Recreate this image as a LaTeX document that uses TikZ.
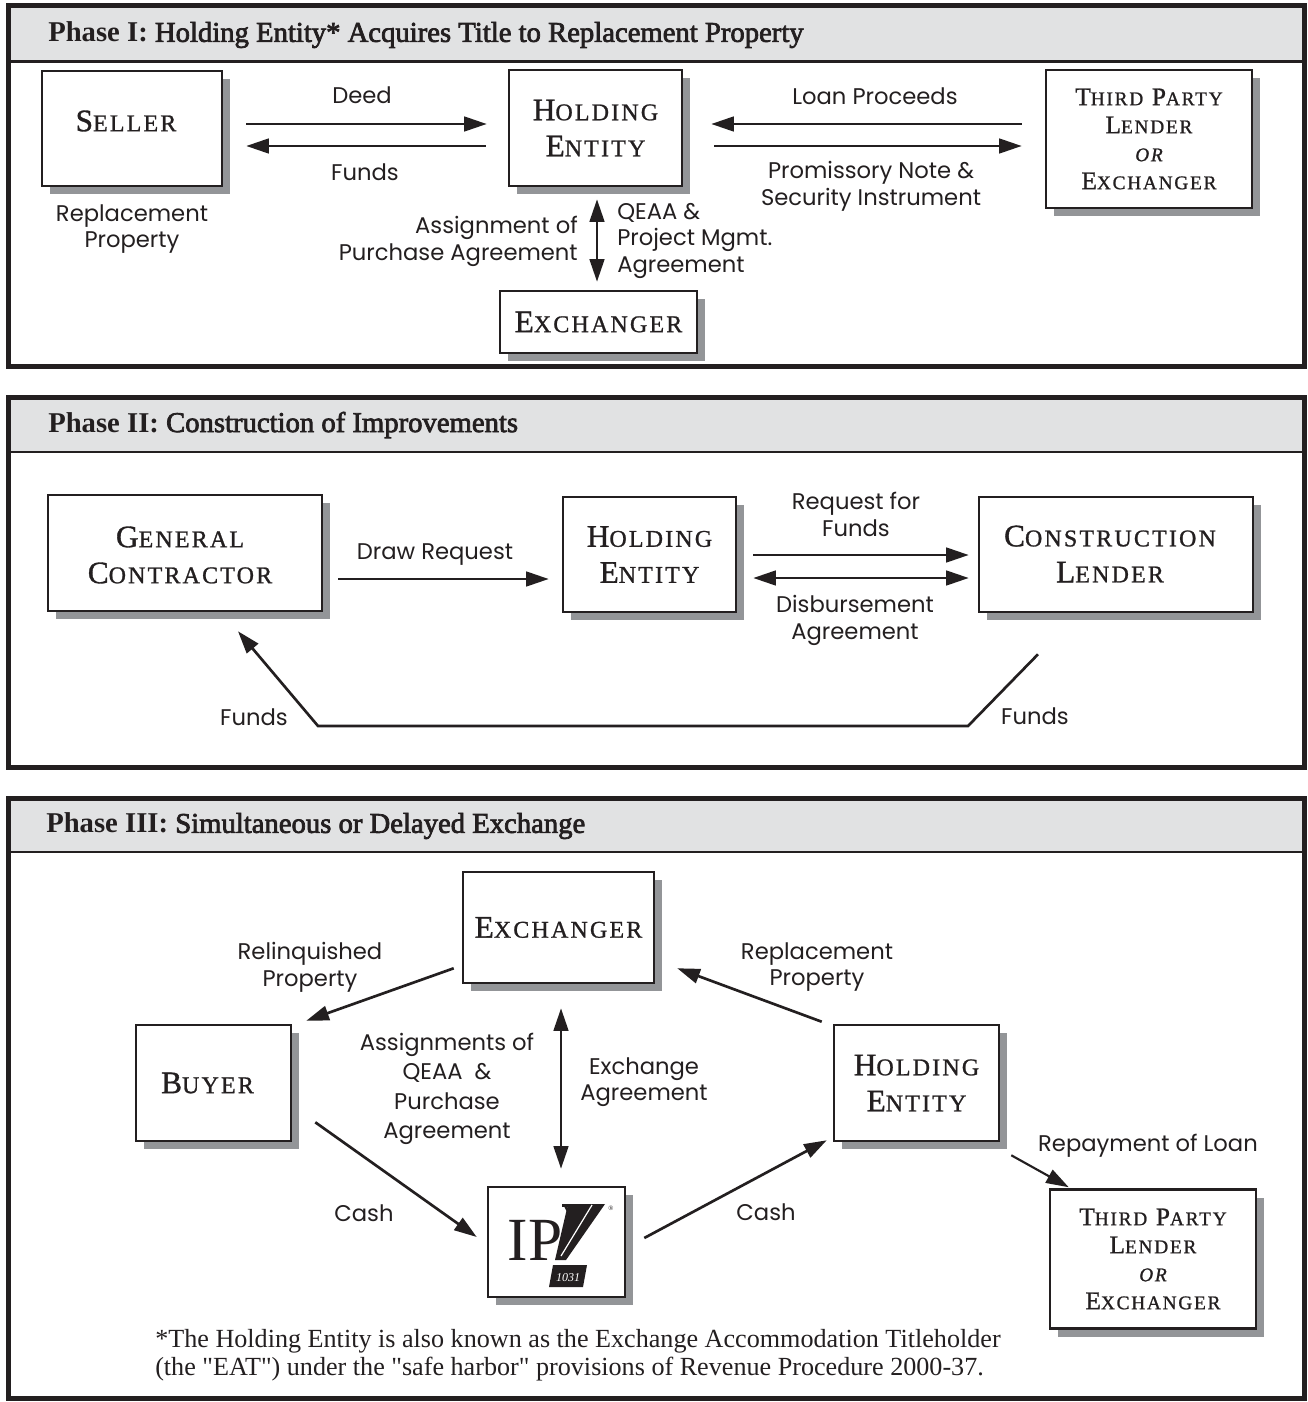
\documentclass[tikz,border=0pt]{standalone}
\usepackage{fontspec}
\setmainfont{Liberation Serif}
\newfontfamily\labfont{Poppins}
\newfontfamily\scfont{Liberation Serif}[LetterSpace=9,FakeBold=1]
\newfontface\semib{Liberation Serif}[FakeBold=2.5]
\usetikzlibrary{arrows.meta,shadows,calc}
\definecolor{ink}{HTML}{231F20}
\definecolor{hdr}{HTML}{E1E2E3}
\definecolor{shd}{HTML}{939598}
\newcommand\scA[2]{#1{\fontsize{18pt}{27pt}\selectfont #2}}
\newcommand\scB[2]{#1{\fontsize{14.5pt}{21pt}\selectfont #2}}
\newcommand\sqt{\XeTeXglyph\XeTeXcharglyph"22\relax}
\begin{document}
\begin{tikzpicture}[x=0.75pt,y=-0.75pt,
  panel/.style={draw=ink,line width=3.75pt},
  sep/.style={draw=ink,line width=1.9pt},
  box/.style={draw=ink,line width=1.9pt,fill=white,inner sep=0pt,align=center,text=ink,
    drop shadow={shadow xshift=6pt,shadow yshift=-6pt,fill=shd,opacity=1}},
  sz/.style 2 args={minimum width=#1*0.75pt,minimum height=#2*0.75pt},
  bigtext/.style={font=\scfont\fontsize{23.5pt}{27pt}\selectfont,align=center,text=ink,inner sep=0pt},
  tptext/.style={font=\scfont\fontsize{19pt}{21pt}\selectfont,align=center,text=ink,inner sep=0pt},
  lab/.style={font=\labfont\fontsize{17pt}{20pt}\selectfont,text=ink,inner sep=0pt,align=center},
  title/.style={font=\fontsize{21.5pt}{24pt}\selectfont,text=ink,anchor=west,inner sep=0pt},
  arr/.style={draw=ink,line width=2pt,-{Triangle[length=17pt,width=11pt]}},
  dbl/.style={draw=ink,line width=2pt,{Triangle[length=17pt,width=11pt]}-{Triangle[length=17pt,width=11pt]}}
]
\useasboundingbox (0,0) rectangle (1307,1402);
\fill[white] (0,0) rectangle (1307,1402);

% ---------------- Panel frames ----------------
\fill[hdr] (8,5.5) rectangle (1304,61.5);
\draw[sep] (8,61.5) -- (1304,61.5);
\draw[panel] (8,5.5) rectangle (1304,366);
\fill[hdr] (8,397) rectangle (1304,452);
\draw[sep] (8,452) -- (1304,452);
\draw[panel] (8,397) rectangle (1304,767);
\fill[hdr] (8,798) rectangle (1304,852);
\draw[sep] (8,852) -- (1304,852);
\draw[panel] (8,798) rectangle (1304,1398);

\node[title] (t1) at (48,35) {\textbf{Phase I:} \semib Holding Entity* Acquires Title to Replacement Property};
\node[title] (t2) at (48,425) {\textbf{Phase II:} \semib Construction of Improvements};
\node[title] (t3) at (46,826) {\textbf{Phase III:} \semib Simultaneous or Delayed Exchange};

% ---------------- Phase I ----------------
\node[box,sz={180}{115}] (seller) at (132,128.5) {};
\node[bigtext] (sellert) at (126,121) {\scA{S}{ELLER}};
\node[box,sz={173}{116},bigtext] (hold1) at (595.5,128) {\scA{H}{OLDING}\\\scA{E}{NTITY}};
\node[box,sz={206}{138},tptext] (third1) at (1149,139) {\scB{T}{HIRD} \scB{P}{ARTY}\\\scB{L}{ENDER}\\{\itshape\fontsize{14.5pt}{21pt}\selectfont OR}\\\scB{E}{XCHANGER}};
\node[box,sz={197}{62},bigtext] (exch1) at (598.5,322) {\scA{E}{XCHANGER}};

\draw[arr] ($(seller.east)+(23,-4.5)$) -- ($(hold1.west)+(-21,-4)$);
\draw[arr] ($(hold1.west)+(-22,18)$) -- ($(seller.east)+(23,17.5)$);
\draw[arr] ($(third1.west)+(-23,-15)$) -- ($(hold1.east)+(28,-4)$);
\draw[arr] ($(hold1.east)+(31,18)$) -- ($(third1.west)+(-23,7)$);
\draw[dbl] ($(hold1.south)+(1.5,12)$) -- ($(exch1.north)+(-1.5,-8)$);

\node[lab] (deed) at (362,95) {Deed};
\node[lab] (funds1) at (365,172) {Funds};
\node[lab] (loan) at (875,96) {Loan Proceeds};
\node[lab] (prom) at (871,186) {Promissory Note \&\\Security Instrument};
\node[lab] (repl1) at (132,229) {Replacement\\Property};
\node[lab,anchor=east,align=right] (assign1) at (578,241.5) {Assignment of\\Purchase Agreement};
\node[lab,anchor=west,align=left] (qeaa1) at (617,241) {QEAA \&\\Project Mgmt.\\Agreement};

% ---------------- Phase II ----------------
\node[box,sz={274}{116}] (gc) at (185,553) {};
\node[bigtext] (gct) at (180,555) {\scA{G}{ENERAL}\\\scA{C}{ONTRACTOR}};
\node[box,sz={173}{115},bigtext] (hold2) at (649.5,554.5) {\scA{H}{OLDING}\\\scA{E}{NTITY}};
\node[box,sz={274}{115}] (cl) at (1116,554.5) {};
\node[bigtext] (clt) at (1110,554) {\scA{C}{ONSTRUCTION}\\\scA{L}{ENDER}};

\draw[arr] ($(gc.east)+(15,26)$) -- ($(hold2.west)+(-13,24.5)$);
\draw[arr] ($(hold2.east)+(16,0.5)$) -- ($(cl.west)+(-9,0.5)$);
\draw[dbl] ($(hold2.east)+(16,23.5)$) -- ($(cl.west)+(-9,23.5)$);
\coordinate (f1) at (968,726);
\coordinate (f2) at (318,726);
\draw[arr] ($(cl.south)+(-78,41)$) -- (f1) -- (f2) -- ($(gc.south)+(53,19)$);

\node[lab] (draw) at (435,555) {Draw Request};
\node[lab] (req) at (856,514.5) {Request for\\Funds};
\node[lab] (disb) at (855,620.5) {Disbursement\\Agreement};
\node[lab] (funds2) at (254,717) {Funds};
\node[lab] (funds3) at (1035,716) {Funds};

% ---------------- Phase III ----------------
\node[box,sz={191}{111},bigtext] (exch3) at (558.5,927.5) {\scA{E}{XCHANGER}};
\node[box,sz={155}{116},bigtext] (buyer) at (213.5,1083) {\hspace*{-9pt}\scA{B}{UYER}};
\node[box,sz={165}{116},bigtext] (hold3) at (916.5,1083) {\scA{H}{OLDING}\\\scA{E}{NTITY}};
\node[box,sz={137}{110}] (ipx) at (556.5,1242) {};
\node[box,sz={206}{139},tptext] (third3) at (1153,1259) {\scB{T}{HIRD} \scB{P}{ARTY}\\\scB{L}{ENDER}\\{\itshape\fontsize{14.5pt}{21pt}\selectfont OR}\\\scB{E}{XCHANGER}};

% IPX logo
\node[font=\fontsize{46pt}{46pt}\selectfont,text=ink,inner sep=0pt,anchor=base] (ipxt) at (535,1260) {IP};
\fill[ink] (568,1204) -- (605,1204) -- (566,1260) -- (555,1260) -- cycle;
\fill[ink] (562,1204) rectangle (575,1207);
\draw[ink,line width=1.5pt] (565,1206) -- (580,1234);
\draw[white,line width=0.9pt] (592,1205) -- (561,1256);
\fill[ink] (553,1265) -- (587,1265) -- (583,1287) -- (549,1287) -- cycle;
\node[font=\itshape\fontsize{9pt}{9pt}\selectfont,text=white,inner sep=0pt] (ipxn) at (568,1278) {1031};
\node[font=\fontsize{5pt}{5pt}\selectfont,text=ink,inner sep=0pt] (ipxr) at (611,1208) {\textregistered};

\draw[arr] ($(exch3.south west)+(-8,-16)$) -- ($(buyer.north east)+(14,-3)$);
\draw[arr] ($(hold3.north west)+(-11,-2)$) -- ($(exch3.south east)+(22,-16)$);
\draw[dbl] ($(exch3.south)+(2.5,24)$) -- ($(ipx.north)+(4.5,-17)$);
\draw[arr] ($(buyer.south east)+(23,-20)$) -- ($(ipx.west)+(-10,-5)$);
\draw[arr] ($(ipx.east)+(18,-4)$) -- ($(hold3.south west)+(-6,-2)$);
\draw[arr,line width=1.6pt] ($(hold3.south east)+(11,13)$) -- ($(third3.north west)+(20,-1)$);

\node[lab] (relq) at (310,967) {Relinquished\\Property};
\node[lab] (repl3) at (817,967) {Replacement\\Property};
\node[lab,font=\labfont\fontsize{17pt}{22pt}\selectfont] (assign3) at (447,1089) {Assignments of\\QEAA\ \ \&\\Purchase\\Agreement};
\node[lab] (exag) at (644,1082) {Exchange\\Agreement};
\node[lab] (cash1) at (364,1213) {Cash};
\node[lab] (cash2) at (766,1212) {Cash};
\node[lab] (repay) at (1148,1146) {Repayment of Loan};

\node[font=\fontsize{19.6pt}{21pt}\selectfont,text=ink,anchor=west,align=left,inner sep=0pt] (foot) at (155,1355)
  {*The Holding Entity is also known as the Exchange Accommodation Titleholder\\(the \sqt EAT\sqt) under the \sqt safe harbor\sqt{} provisions of Revenue Procedure 2000-37.};
\end{tikzpicture}
\end{document}
